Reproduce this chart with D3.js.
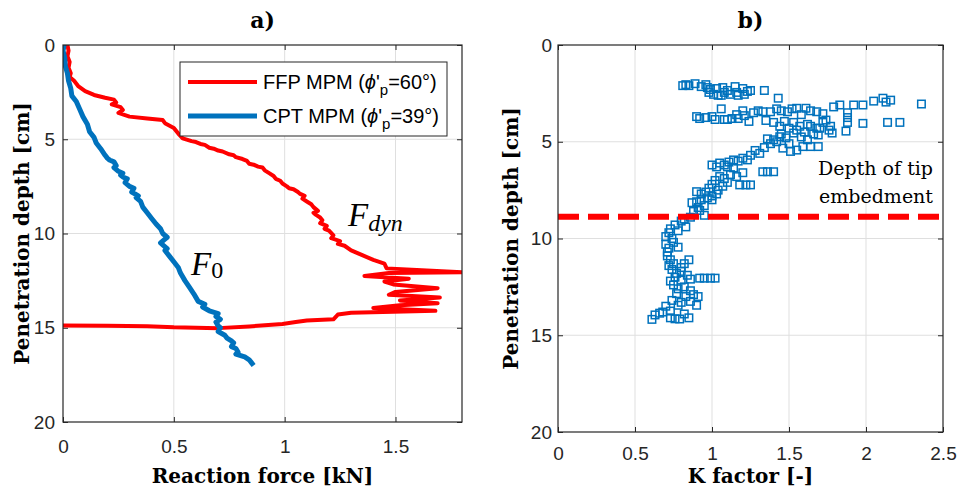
<!DOCTYPE html>
<html>
<head>
<meta charset="utf-8">
<script src="https://cdn.jsdelivr.net/npm/d3@7"></script>
<style>
  html, body { margin: 0; padding: 0; background: #fff; }
  svg { display: block; }
</style>
</head>
<body>
<div id="chart"></div>
<script>
// ---- data ----
// panel a) FFP MPM curve: reaction force [kN] vs penetration depth [cm]
const ffpForce = [0.02, 0.025, 0.02, 0.03, 0.025, 0.035, 0.03, 0.05, 0.07, 0.1, 0.14, 0.19, 0.23, 0.24, 0.22, 0.26, 0.27, 0.25, 0.3, 0.38,
  0.45, 0.46, 0.5, 0.52, 0.54, 0.58, 0.6, 0.62, 0.64, 0.66, 0.68, 0.7, 0.72, 0.75, 0.77, 0.78, 0.81, 0.83, 0.84, 0.86,
  0.88, 0.9, 0.91, 0.93, 0.95, 0.96, 0.98, 0.99, 1.01, 1.02, 1.04, 1.06, 1.07, 1.09, 1.08, 1.1, 1.12, 1.13, 1.15, 1.13,
  1.14, 1.16, 1.17, 1.16, 1.19, 1.18, 1.2, 1.22, 1.21, 1.25, 1.24, 1.27, 1.3, 1.35, 1.4, 1.45, 1.46, 1.8, 1.47, 1.36,
  1.56, 1.45, 1.49, 1.69, 1.5, 1.47, 1.7, 1.52, 1.69, 1.52, 1.4, 1.68, 1.3, 1.24, 1.22, 1.1, 1.05, 0.99, 0.84, 0.7,
  0.5, 0.38, 0.2, 0.0];
const ffpDepth = [0.0, 0.3, 0.6, 0.9, 1.2, 1.5, 1.7, 1.9, 2.2, 2.45, 2.65, 2.8, 2.9, 3.05, 3.15, 3.3, 3.45, 3.6, 3.8, 3.9,
  3.98, 4.15, 4.4, 4.7, 4.95, 5.1, 5.15, 5.25, 5.3, 5.45, 5.5, 5.6, 5.65, 5.8, 5.85, 5.95, 6.05, 6.15, 6.3, 6.35,
  6.45, 6.5, 6.65, 6.8, 6.95, 7.1, 7.2, 7.35, 7.5, 7.6, 7.65, 7.8, 7.9, 8.0, 8.15, 8.3, 8.45, 8.6, 8.8, 8.9,
  9.0, 9.15, 9.3, 9.45, 9.6, 9.75, 9.85, 10.1, 10.25, 10.4, 10.55, 10.65, 10.9, 11.15, 11.4, 11.6, 11.85, 12.05, 12.1, 12.25,
  12.4, 12.55, 12.7, 12.9, 13.1, 13.25, 13.4, 13.55, 13.7, 13.8, 13.95, 14.1, 14.2, 14.3, 14.55, 14.62, 14.7, 14.8, 14.93, 15.02,
  14.98, 14.92, 14.9, 14.88];

// panel a) CPT MPM curve
const cptForce = [0.005, 0.0, 0.008, 0.01, 0.02, 0.025, 0.035, 0.04, 0.06, 0.075, 0.09, 0.11, 0.12, 0.14, 0.15, 0.17, 0.19, 0.2, 0.21, 0.23,
  0.24, 0.23, 0.25, 0.27, 0.26, 0.27, 0.29, 0.28, 0.3, 0.32, 0.31, 0.34, 0.33, 0.35, 0.36, 0.38, 0.4, 0.42, 0.44, 0.45,
  0.47, 0.46, 0.44, 0.45, 0.47, 0.46, 0.48, 0.5, 0.52, 0.53, 0.55, 0.57, 0.59, 0.61, 0.64, 0.63, 0.66, 0.7, 0.69, 0.71,
  0.69, 0.7, 0.71, 0.7, 0.73, 0.74, 0.76, 0.77, 0.76, 0.78, 0.79, 0.78, 0.82, 0.84, 0.85, 0.86];
const cptDepth = [0.0, 0.3, 0.7, 1.1, 1.5, 1.9, 2.3, 2.7, 3.0, 3.4, 3.8, 4.2, 4.6, 4.9, 5.2, 5.5, 5.85, 6.0, 6.1, 6.2,
  6.4, 6.5, 6.7, 6.8, 6.9, 7.0, 7.1, 7.3, 7.5, 7.6, 7.8, 8.0, 8.1, 8.3, 8.6, 8.9, 9.2, 9.5, 9.75, 10.0,
  10.2, 10.3, 10.5, 10.6, 10.8, 10.9, 11.2, 11.5, 11.8, 12.1, 12.5, 12.85, 13.2, 13.6, 13.75, 13.9, 14.1, 14.25, 14.4, 14.55,
  14.7, 14.9, 15.0, 15.2, 15.4, 15.55, 15.7, 15.8, 16.0, 16.1, 16.3, 16.4, 16.55, 16.7, 16.85, 17.0];

// panel b) K factor scatter
const kFactor = [0.81, 0.83, 0.85, 0.89, 0.93, 0.96, 0.97, 0.99, 1.01, 1.03, 1.04, 1.07, 1.08, 1.1, 1.12, 1.15, 1.16, 1.17, 1.2, 1.21, 1.23, 1.25, 1.34, 1.43, 0.98, 1.06,
  0.9, 0.92, 0.96, 1.0, 1.02, 1.06, 1.08, 1.1, 1.13, 1.16, 1.17, 1.2, 1.21, 1.24, 1.27, 1.3, 1.33, 1.35,
  1.38, 1.42, 1.45, 1.49, 1.52, 1.55, 1.58, 1.61, 1.64, 1.68, 1.72, 1.79, 1.83, 1.88, 1.92, 1.98, 2.05, 2.11, 2.13, 2.16, 2.36, 1.88, 1.98, 2.14, 2.22, 1.87, 1.88,
  1.4, 1.44, 1.47, 1.5, 1.53, 1.55, 1.57, 1.6, 1.62, 1.64, 1.66, 1.68, 1.7, 1.72, 1.74, 1.76, 1.77, 1.78, 1.69, 1.53, 1.58, 1.62, 1.45, 1.48, 1.42, 1.46, 1.51, 1.55, 1.59, 1.64, 1.69, 1.4, 1.38, 1.44, 1.36, 1.5,
  1.34, 1.31, 1.28, 1.25, 1.23, 1.2, 1.17, 1.14, 1.11, 1.08, 1.05, 1.03, 1.0, 1.1, 1.14, 1.33, 1.36, 1.4, 1.2, 1.16, 1.12, 1.08, 1.05, 1.02, 1.0, 1.18, 1.22, 1.25, 1.1, 1.07, 1.04, 0.98, 0.96, 0.93, 0.9, 1.0, 0.97, 0.93, 0.9, 0.87, 1.0, 1.03, 0.95, 0.91, 0.88, 0.92, 0.95, 0.86, 0.82, 0.8,
  0.76, 0.73, 0.72, 0.78, 0.83, 0.7, 0.74, 0.7, 0.72, 0.71, 0.78, 0.75, 0.71, 0.73, 0.75, 0.85, 0.82, 0.8, 0.72, 0.74, 0.77, 0.8, 0.84, 0.76, 0.73, 0.8, 0.86, 0.92, 0.95, 0.99, 1.02,
  0.75, 0.78, 0.82, 0.86, 0.88, 0.77, 0.83, 0.91, 0.74, 0.8, 0.86, 0.9, 0.78, 0.7, 0.66, 0.68, 0.73, 0.63, 0.61, 0.73, 0.76, 0.79, 0.85, 0.82];
const kDepth = [2.1, 2.05, 2.1, 2.0, 2.15, 2.05, 2.2, 2.3, 2.55, 2.25, 2.6, 2.2, 2.45, 2.35, 2.55, 2.15, 2.45, 2.6, 2.25, 2.55, 2.4, 2.35, 2.35, 2.75, 2.45, 2.6,
  3.7, 3.8, 3.75, 3.7, 3.85, 3.3, 3.85, 3.85, 3.8, 3.6, 3.8, 3.4, 3.65, 3.95, 3.5, 3.4, 3.45, 3.9,
  3.45, 3.3, 3.4, 3.45, 3.3, 3.27, 3.6, 3.27, 3.4, 3.45, 3.55, 3.2, 3.1, 3.5, 3.1, 3.1, 2.9, 2.75, 2.95, 2.85, 3.05, 4.0, 4.05, 4.0, 4.0, 4.45, 3.75,
  4.0, 4.2, 3.95, 4.3, 4.0, 4.4, 4.2, 4.5, 4.1, 4.2, 4.6, 4.3, 4.3, 4.0, 3.88, 4.4, 4.2, 4.55, 4.65, 4.55, 4.75, 4.9, 4.6, 4.8, 5.0, 5.33, 5.5, 5.43, 5.25, 5.25, 5.25, 4.9, 5.1, 4.74, 4.85, 5.1,
  5.3, 5.6, 5.45, 5.7, 5.94, 5.85, 6.0, 5.94, 6.05, 6.2, 6.1, 6.3, 6.2, 6.3, 6.35, 6.55, 6.55, 6.55, 6.6, 6.8, 6.7, 6.9, 6.8, 7.0, 7.2, 7.23, 7.23, 7.23, 7.1, 7.3, 7.5, 7.4, 7.6, 7.7, 7.58, 7.8, 7.9, 8.0, 8.1, 8.15, 8.0, 7.7, 8.3, 8.4, 8.6, 8.55, 8.8, 8.9, 9.0, 9.1,
  9.3, 9.5, 9.7, 9.6, 9.4, 9.9, 10.0, 10.3, 10.5, 10.7, 10.45, 10.2, 10.9, 11.1, 11.3, 11.1, 11.3, 11.5, 11.4, 11.6, 11.8, 11.7, 11.9, 12.0, 12.2, 12.15, 12.1, 12.05, 12.05, 12.05, 12.05,
  12.4, 12.6, 12.5, 12.7, 12.9, 12.85, 13.0, 13.0, 13.2, 13.3, 13.25, 13.45, 13.45, 13.5, 13.86, 13.8, 13.75, 13.95, 14.18, 14.1, 14.15, 14.16, 14.1, 13.9];

const tipDepth = 8.87;

const xTicksA = [0, 0.5, 1, 1.5];
const xTicksB = [0, 0.5, 1, 1.5, 2, 2.5];
const yTicks = [0, 5, 10, 15, 20];

// ---- layout / style ----
const W = 958, H = 488;
const RED = "#ff0000", BLUE = "#0072bd", AXIS = "#262626", GRID = "#dfdfdf";
const SANS = "'Liberation Sans', Arial, sans-serif";
const SERIF = "'DejaVu Serif', serif";

const svg = d3.select("#chart").append("svg").attr("width", W).attr("height", H);

function drawFrame(x, y, xTicks, xPad, yPad) {
  const [x0, x1] = x.range();
  const [y0, y1] = y.range();
  const g = svg.append("g");

  // grid
  g.selectAll(".gx").data(xTicks.filter(t => t > x.domain()[0] && t < x.domain()[1]))
    .join("line").attr("x1", d => x(d)).attr("x2", d => x(d)).attr("y1", y0).attr("y2", y1)
    .attr("stroke", GRID).attr("stroke-width", 1);
  g.selectAll(".gy").data(yTicks.filter(t => t > 0 && t < 20))
    .join("line").attr("y1", d => y(d)).attr("y2", d => y(d)).attr("x1", x0).attr("x2", x1)
    .attr("stroke", GRID).attr("stroke-width", 1);

  const fmt = d => String(d);
  const styleAxis = sel => {
    sel.select(".domain").remove();
    sel.selectAll("line").attr("stroke", AXIS);
    sel.selectAll("text").attr("fill", AXIS).attr("font-family", SANS).attr("font-size", 19);
  };

  g.append("g").attr("transform", `translate(0,${y1})`)
    .call(d3.axisBottom(x).tickValues(xTicks).tickFormat(fmt).tickSizeInner(-5).tickSizeOuter(0).tickPadding(xPad))
    .call(styleAxis);
  g.append("g").attr("transform", `translate(0,${y0})`)
    .call(d3.axisTop(x).tickValues(xTicks).tickFormat("").tickSizeInner(-5).tickSizeOuter(0))
    .call(styleAxis);
  g.append("g").attr("transform", `translate(${x0},0)`)
    .call(d3.axisLeft(y).tickValues(yTicks).tickFormat(fmt).tickSizeInner(-5).tickSizeOuter(0).tickPadding(yPad))
    .call(styleAxis);
  g.append("g").attr("transform", `translate(${x1},0)`)
    .call(d3.axisRight(y).tickValues(yTicks).tickFormat("").tickSizeInner(-5).tickSizeOuter(0))
    .call(styleAxis);

  return g;
}

function drawBox(x, y) {
  const [x0, x1] = x.range();
  const [y0, y1] = y.range();
  svg.append("rect").attr("x", x0).attr("y", y0).attr("width", x1 - x0).attr("height", y1 - y0)
    .attr("fill", "none").attr("stroke", AXIS).attr("stroke-width", 1.2);
}

function labels(cx, cy, title, xLabel, xLabelY, yLabelX) {
  svg.append("text").attr("x", cx).attr("y", 28).attr("text-anchor", "middle")
    .attr("font-family", SERIF).attr("font-weight", "bold").attr("font-size", 22).text(title);
  svg.append("text").attr("x", cx).attr("y", xLabelY).attr("text-anchor", "middle")
    .attr("font-family", SERIF).attr("font-weight", "bold").attr("font-size", 20).text(xLabel);
  svg.append("text").attr("transform", `translate(${yLabelX},${cy}) rotate(-90)`).attr("text-anchor", "middle")
    .attr("font-family", SERIF).attr("font-weight", "bold").attr("font-size", 20).text("Penetration depth [cm]");
}

// ---- panel a) ----
const xA = d3.scaleLinear().domain([0, 1.8]).range([63, 462]);
const yA = d3.scaleLinear().domain([0, 20]).range([45, 422]);
drawFrame(xA, yA, xTicksA, 18, 8);

svg.append("clipPath").attr("id", "clipA").append("rect")
  .attr("x", 63).attr("y", 45).attr("width", 399).attr("height", 377);

const lineA = d3.line().x(d => xA(d[0])).y(d => yA(d[1]));
const plotA = svg.append("g").attr("clip-path", "url(#clipA)");
plotA.append("path").datum(d3.zip(ffpForce, ffpDepth)).attr("d", lineA)
  .attr("fill", "none").attr("stroke", RED).attr("stroke-width", 4).attr("stroke-linejoin", "round");
plotA.append("path").datum(d3.zip(cptForce, cptDepth)).attr("d", lineA)
  .attr("fill", "none").attr("stroke", BLUE).attr("stroke-width", 5).attr("stroke-linejoin", "round");
drawBox(xA, yA);

// curve annotations
const fdyn = svg.append("text").attr("x", 348).attr("y", 226)
  .attr("font-family", "'Liberation Serif', serif").attr("font-style", "italic").attr("font-size", 33);
fdyn.append("tspan").text("F");
fdyn.append("tspan").attr("dy", 5).attr("font-size", 24).text("dyn");
const f0 = svg.append("text").attr("x", 191).attr("y", 275)
  .attr("font-family", "'Liberation Serif', serif").attr("font-style", "italic").attr("font-size", 33);
f0.append("tspan").text("F");
f0.append("tspan").attr("dy", 3).attr("font-style", "normal").attr("font-size", 24).text("0");

// legend
const leg = svg.append("g");
leg.append("rect").attr("x", 180).attr("y", 62).attr("width", 267).attr("height", 74)
  .attr("fill", "#fff").attr("stroke", AXIS).attr("stroke-width", 1);
const legendItems = [
  { color: RED, width: 4, y: 82, label: "FFP MPM (", val: "=60°)" },
  { color: BLUE, width: 5, y: 116, label: "CPT MPM (", val: "=39°)" }
];
legendItems.forEach(it => {
  leg.append("line").attr("x1", 188).attr("x2", 257).attr("y1", it.y).attr("y2", it.y)
    .attr("stroke", it.color).attr("stroke-width", it.width);
  const t = leg.append("text").attr("x", 263).attr("y", it.y + 7)
    .attr("font-family", SANS).attr("font-size", 20).attr("fill", "#000");
  t.append("tspan").text(it.label);
  t.append("tspan").attr("font-style", "italic").text("ϕ");
  t.append("tspan").text("'");
  t.append("tspan").attr("dy", 6).attr("font-size", 15).text("p");
  t.append("tspan").attr("dy", -6).text(it.val);
});

labels(262.5, 233.5, "a)", "Reaction force [kN]", 483, 29);

// ---- panel b) ----
const xB = d3.scaleLinear().domain([0, 2.5]).range([558, 943]);
const yB = d3.scaleLinear().domain([0, 20]).range([45, 432]);
drawFrame(xB, yB, xTicksB, 15, 6);

const ms = 7.5;
svg.append("g").selectAll("rect").data(d3.zip(kFactor, kDepth)).join("rect")
  .attr("x", d => xB(d[0]) - ms / 2).attr("y", d => yB(d[1]) - ms / 2)
  .attr("width", ms).attr("height", ms)
  .attr("fill", "none").attr("stroke", BLUE).attr("stroke-width", 1.5);

svg.append("line").attr("x1", xB(0)).attr("x2", xB(2.5)).attr("y1", yB(tipDepth)).attr("y2", yB(tipDepth))
  .attr("stroke", RED).attr("stroke-width", 6).attr("stroke-dasharray", "21,9");
drawBox(xB, yB);

const tip = svg.append("text").attr("text-anchor", "end").attr("font-family", SERIF).attr("font-size", 19);
tip.append("tspan").attr("x", 933).attr("y", 175).text("Depth of tip");
tip.append("tspan").attr("x", 933).attr("y", 203).text("embedment");

labels(750.5, 238.5, "b)", "K factor [-]", 483, 518);
</script>
</body>
</html>
